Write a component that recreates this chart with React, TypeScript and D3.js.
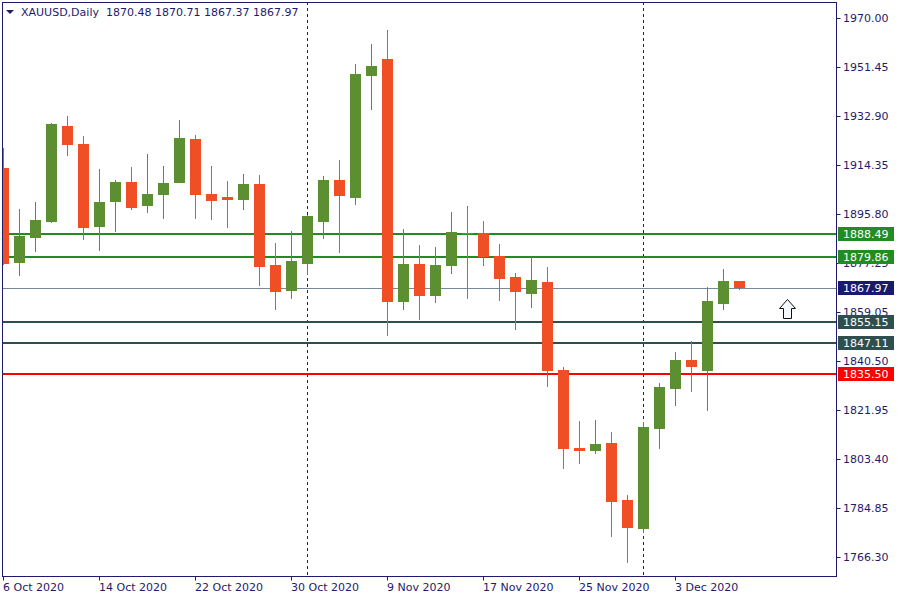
import React from 'react';
import * as d3 from 'd3';

// daily candles, XAUUSD
const dates = [
  '2020-10-06', '2020-10-07', '2020-10-08', '2020-10-09', '2020-10-12', '2020-10-13', '2020-10-14',
  '2020-10-15', '2020-10-16', '2020-10-19', '2020-10-20', '2020-10-21', '2020-10-22', '2020-10-23',
  '2020-10-26', '2020-10-27', '2020-10-28', '2020-10-29', '2020-10-30', '2020-11-02', '2020-11-03',
  '2020-11-04', '2020-11-05', '2020-11-06', '2020-11-09', '2020-11-10', '2020-11-11', '2020-11-12',
  '2020-11-13', '2020-11-16', '2020-11-17', '2020-11-18', '2020-11-19', '2020-11-20', '2020-11-23',
  '2020-11-24', '2020-11-25', '2020-11-26', '2020-11-27', '2020-11-30', '2020-12-01', '2020-12-02',
  '2020-12-03', '2020-12-04', '2020-12-07', '2020-12-08', '2020-12-09',
];
const opens = [
  1913.31, 1877.41, 1886.86, 1892.90, 1929.18, 1922.38, 1891.01, 1900.46, 1908.02, 1898.95,
  1903.11, 1907.64, 1924.27, 1903.48, 1902.35, 1901.22, 1907.26, 1876.65, 1866.83, 1877.03,
  1892.90, 1908.78, 1901.97, 1948.08, 1954.50, 1862.67, 1877.03, 1864.94, 1876.27, 1888.74,
  1888.74, 1880.05, 1872.12, 1865.69, 1870.23, 1836.97, 1807.49, 1806.36, 1809.38, 1787.84,
  1776.88, 1814.67, 1829.79, 1840.75, 1836.59, 1861.91, 1870.48,
];
const highs = [
  1920.87, 1897.82, 1900.46, 1930.32, 1932.96, 1925.40, 1912.93, 1908.78, 1913.69, 1918.60,
  1914.07, 1931.45, 1925.78, 1914.07, 1908.40, 1911.04, 1910.66, 1884.97, 1889.50, 1895.60,
  1910.29, 1916.33, 1952.62, 1960.17, 1965.46, 1890.26, 1884.21, 1883.45, 1896.68, 1898.95,
  1893.28, 1884.59, 1873.63, 1879.67, 1875.90, 1838.10, 1817.69, 1818.07, 1813.54, 1789.73,
  1817.32, 1832.06, 1843.77, 1847.93, 1868.34, 1875.14, 1870.71,
];
const lows = [
  1876.80, 1872.49, 1881.56, 1892.52, 1917.85, 1886.10, 1881.94, 1889.12, 1897.44, 1896.30,
  1894.04, 1907.50, 1894.04, 1893.66, 1890.63, 1897.44, 1868.71, 1859.64, 1863.80, 1872.87,
  1886.48, 1881.19, 1899.33, 1935.23, 1849.82, 1859.64, 1855.87, 1862.29, 1873.25, 1863.80,
  1876.27, 1863.05, 1852.09, 1860.40, 1830.54, 1799.55, 1801.44, 1805.22, 1773.85, 1764.03,
  1775.37, 1807.11, 1823.36, 1828.66, 1821.47, 1859.64, 1867.37,
];
const closes = [
  1877.03, 1887.61, 1893.66, 1929.94, 1922.00, 1890.63, 1900.46, 1908.02, 1898.19, 1903.48,
  1907.64, 1924.65, 1903.11, 1900.84, 1901.22, 1907.26, 1875.90, 1866.45, 1878.16, 1895.17,
  1908.78, 1902.73, 1948.84, 1951.86, 1862.67, 1877.03, 1864.94, 1876.65, 1889.12, 1888.37,
  1879.67, 1871.36, 1866.45, 1870.98, 1836.71, 1807.11, 1806.36, 1809.00, 1787.08, 1777.26,
  1815.43, 1830.54, 1840.75, 1838.10, 1863.05, 1870.48, 1867.97,
];

const priceTicks = [
  '1970.00', '1951.45', '1932.90', '1914.35', '1895.80', '1877.25',
  '1859.05', '1840.50', '1821.95', '1803.40', '1784.85', '1766.30',
];
const dateTickEvery = 6;

const levels = [1888.49, 1879.86, 1855.15, 1847.11, 1835.5];
const levelColors = ['#228b22', '#228b22', '#2f4f4f', '#2f4f4f', '#ff0000'];
const bid = 1867.97;

const symbol = 'XAUUSD,Daily';
// arrow object (time index, price at its tip)
const arrowIndex = 49;
const arrowPrice = 1863.8;

const W = 900;
const H = 600;
const plot = { left: 2, top: 2, right: 836, bottom: 576 };
const FG = '#1f1a6b';
const UP = '#5b8f31';
const DOWN = '#f04e25';
const FONT = '"DejaVu Sans", Verdana, sans-serif';

const parse = d3.timeParse('%Y-%m-%d');
const fmt = d3.timeFormat('%-d %b %Y');

export default function App() {
  const x = d3.scaleLinear().domain([0, dates.length - 1]).range([3.5, 3.5 + 16 * (dates.length - 1)]);
  const y = d3.scaleLinear().domain([1766.3, 1970]).range([557, 18]);

  const candles = dates.map((d, i) => ({
    date: parse(d)!,
    o: opens[i],
    h: highs[i],
    l: lows[i],
    c: closes[i],
  }));

  // month separators
  const separators = candles
    .map((c, i) => ({ c, i }))
    .filter(({ c, i }) => i > 0 && c.date.getMonth() !== candles[i - 1].date.getMonth());

  const dateTicks = candles.map((c, i) => ({ c, i })).filter(({ i }) => i % dateTickEvery === 0);

  const n = closes.length - 1;
  const header = `${symbol}  ${opens[n].toFixed(2)} ${highs[n].toFixed(2)} ${lows[n].toFixed(2)} ${closes[n].toFixed(2)}`;

  const ax = Math.floor(x(arrowIndex)) + 0.5;
  const ay = Math.round(y(arrowPrice)) + 0.5;
  const arrowPath = `M${ax},${ay} L${ax + 8},${ay + 9} L${ax + 4},${ay + 9} L${ax + 4},${ay + 19} L${ax - 4},${ay + 19} L${ax - 4},${ay + 9} L${ax - 8},${ay + 9} Z`;

  return (
    <svg
      width={W}
      height={H}
      style={{ position: 'absolute', left: 0, top: 0, background: '#fff', fontFamily: FONT }}
    >
      <defs>
        <clipPath id="plot-clip">
          <rect x={plot.left} y={plot.top} width={plot.right - plot.left} height={plot.bottom - plot.top} />
        </clipPath>
      </defs>

      <g clipPath="url(#plot-clip)">
        {separators.map(({ i }) => (
          <line
            key={'sep' + i}
            x1={Math.floor(x(i)) + 0.5}
            x2={Math.floor(x(i)) + 0.5}
            y1={plot.top}
            y2={plot.bottom}
            stroke={FG}
            strokeDasharray="3,3"
          />
        ))}

        <line x1={plot.left} x2={plot.right} y1={Math.round(y(bid)) + 0.5} y2={Math.round(y(bid)) + 0.5} stroke="#778899" />

        {levels.map((v, i) => (
          <line key={'lv' + i} x1={plot.left} x2={plot.right} y1={Math.round(y(v))} y2={Math.round(y(v))} stroke={levelColors[i]} strokeWidth={2} />
        ))}

        {candles.map((c, i) => {
          const cx = Math.floor(x(i));
          const col = c.c >= c.o ? UP : DOWN;
          const top = Math.round(y(Math.max(c.o, c.c)));
          const bot = Math.round(y(Math.min(c.o, c.c)));
          return (
            <g key={'c' + i}>
              <line x1={cx + 0.5} x2={cx + 0.5} y1={Math.round(y(c.h))} y2={Math.round(y(c.l))} stroke={col} />
              <rect x={cx - 5} y={top} width={11} height={Math.max(1, bot - top)} fill={col} />
            </g>
          );
        })}

        <path d={arrowPath} fill="#f4faff" stroke="#111" strokeWidth={1} />
      </g>

      {/* frame */}
      <rect
        x={plot.left + 0.5}
        y={plot.top + 0.5}
        width={plot.right - plot.left}
        height={plot.bottom - plot.top}
        fill="none"
        stroke={FG}
      />

      {/* header */}
      <path d="M6,10 L14,10 L10,14 Z" fill={FG} />
      <text x={21} y={12} dy="0.35em" fontSize={11} fill={FG} style={{ whiteSpace: 'pre' }}>
        {header}
      </text>

      {/* price axis */}
      {priceTicks.map((t) => {
        const py = Math.round(y(+t)) + 0.5;
        return (
          <g key={'pt' + t}>
            <line x1={plot.right + 0.5} x2={plot.right + 4.5} y1={py} y2={py} stroke={FG} />
            <text x={843} y={py} dy="0.35em" fontSize={11} fill={FG}>
              {t}
            </text>
          </g>
        );
      })}

      {/* level labels */}
      {[...levels.map((v, i) => ({ v, col: levelColors[i] })), { v: bid, col: '#191970' }].map(({ v, col }) => {
        const py = Math.round(y(v));
        return (
          <g key={'lb' + v}>
            <rect x={838} y={py - 7} width={56} height={14} fill={col} />
            <text x={843} y={py} dy="0.35em" fontSize={11} fill="#fff">
              {v.toFixed(2)}
            </text>
          </g>
        );
      })}

      {/* time axis */}
      {dateTicks.map(({ c, i }) => {
        const tx = Math.floor(x(i)) + 0.5;
        return (
          <g key={'dt' + i}>
            <line x1={tx} x2={tx} y1={plot.bottom + 0.5} y2={plot.bottom + 4.5} stroke={FG} />
            <text x={tx - 0.5} y={587} dy="0.35em" fontSize={11} fill={FG}>
              {fmt(c.date)}
            </text>
          </g>
        );
      })}
    </svg>
  );
}
